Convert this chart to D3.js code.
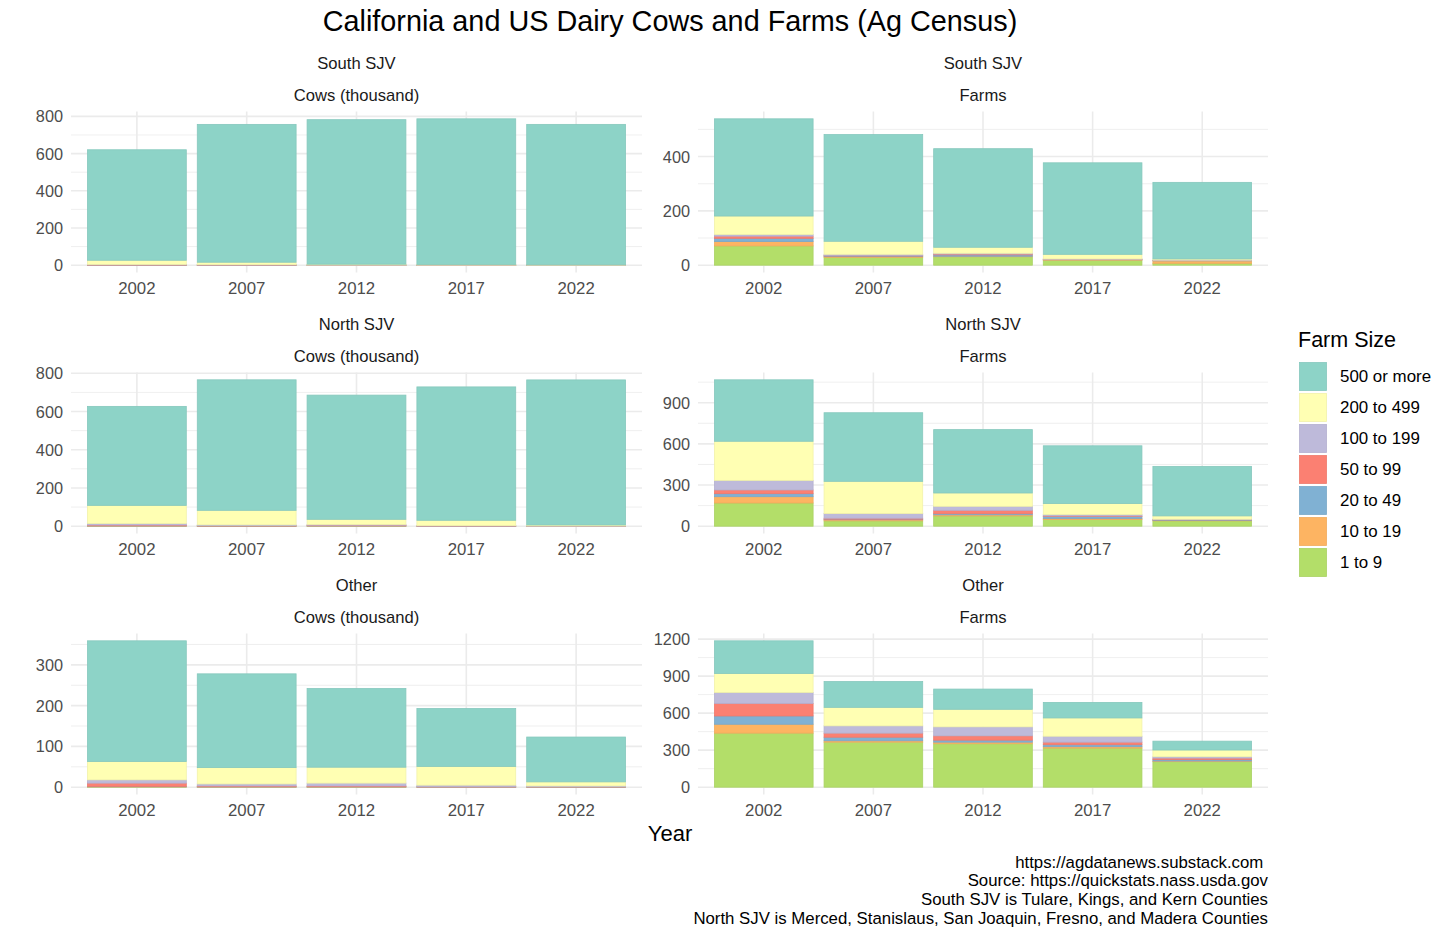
<!DOCTYPE html>
<html lang="en">
  <head>
    <meta charset="utf-8">
    <title>California and US Dairy Cows and Farms</title>
    <style>
      body { margin: 0; background: #fff; }
      svg { display: block; font-family: "Liberation Sans", Arial, sans-serif; }
    </style>
    <script src="https://cdn.jsdelivr.net/npm/d3@7"></script>
  </head>
  <body>
    <script>
    // data (stack order bottom -> top, columns follow years)
    const years = ["2002", "2007", "2012", "2017", "2022"];
    const sizes = ["1 to 9", "10 to 19", "20 to 49", "50 to 99", "100 to 199", "200 to 499", "500 or more"];
    const sizeColors = ["#B3DE69", "#FDB462", "#80B1D3", "#FB8072", "#BEBADA", "#FFFFB3", "#8DD3C7"];

    const southCows = [
      [0.05, 0.03, 0.02, 0.02, 0.01],
      [0.15, 0.1, 0.05, 0.05, 0.03],
      [0.3, 0.2, 0.1, 0.1, 0.05],
      [1, 0.6, 0.3, 0.2, 0.1],
      [3, 2, 0.8, 0.5, 0.3],
      [22, 13, 4, 3, 1.5],
      [594, 741, 777, 783, 755]
    ];
    const southFarms = [
      [71, 29, 31, 18, 7],
      [16, 3, 2, 2, 9],
      [12, 2, 5, 1, 1],
      [8, 2, 3, 1, 1],
      [6, 4, 3, 1, 1],
      [68, 48, 22, 17, 4],
      [358, 393, 363, 337, 282]
    ];
    const northCows = [
      [0.5, 0.2, 0.5, 0.1, 0.05],
      [0.5, 0.3, 0.5, 0.1, 0.05],
      [1, 0.5, 1, 0.2, 0.1],
      [4, 2, 3, 0.5, 0.3],
      [8, 4, 4, 2, 1],
      [95, 76, 27, 28, 5],
      [518, 683, 650, 698, 759]
    ];
    const northFarms = [
      [169, 39, 75, 48, 39],
      [46, 8, 8, 9, 3],
      [22, 4, 8, 14, 4],
      [27, 7, 25, 4, 2],
      [70, 34, 29, 10, 3],
      [285, 235, 97, 80, 24],
      [448, 500, 462, 421, 361]
    ];
    const otherCows = [
      [0.5, 0.3, 0.3, 0.2, 0.2],
      [0.5, 0.3, 0.3, 0.1, 0.1],
      [1, 0.4, 0.4, 0.2, 0.2],
      [8, 2, 2, 0.5, 0.5],
      [8, 5, 7, 4, 2],
      [45, 40, 39, 46, 10],
      [296, 230, 193, 142, 110]
    ];
    const otherFarms = [
      [438, 365, 352, 317, 207],
      [72, 11, 13, 11, 5],
      [67, 29, 16, 16, 11],
      [102, 33, 35, 21, 13],
      [89, 59, 73, 48, 11],
      [153, 150, 142, 148, 54],
      [265, 209, 164, 126, 72]
    ];

    const regions = ["South SJV", "North SJV", "Other"];
    const measures = ["Cows (thousand)", "Farms"];
    const panelData = [[southCows, southFarms], [northCows, northFarms], [otherCows, otherFarms]];
    const panelTicks = [
      [[0, 200, 400, 600, 800], [0, 200, 400]],
      [[0, 200, 400, 600, 800], [0, 300, 600, 900]],
      [[0, 100, 200, 300], [0, 300, 600, 900, 1200]]
    ];

    const captionLines = [
      "https://agdatanews.substack.com ",
      "Source: https://quickstats.nass.usda.gov",
      "South SJV is Tulare, Kings, and Kern Counties",
      "North SJV is Merced, Stanislaus, San Joaquin, Fresno, and Madera Counties"
    ];

    // layout
    const W = 1456, H = 937;
    const colX = [[71, 642], [698, 1268]];
    const rowTop = [111.5, 372.5, 633.5];
    const panelH = 161;
    const gridColor = "#EBEBEB";

    const svg = d3.select("body").append("svg")
      .attr("width", W)
      .attr("height", H);

    svg.append("text")
      .attr("x", 670)
      .attr("y", 21)
      .attr("text-anchor", "middle")
      .attr("dominant-baseline", "central")
      .style("font-size", "28.8px")
      .style("fill", "#000")
      .text("California and US Dairy Cows and Farms (Ag Census)");

    regions.forEach((region, r) => {
      measures.forEach((measure, c) => {
        const data = panelData[r][c];
        const ticks = panelTicks[r][c];
        const [x0, x1] = colX[c];
        const top = rowTop[r], bottom = top + panelH;

        const x = d3.scaleBand()
          .domain(years)
          .range([x0, x1])
          .paddingInner(0.1)
          .paddingOuter(0.15);

        const rows = years.map((yr, i) => {
          const o = { year: yr };
          sizes.forEach((s, k) => o[s] = data[k][i]);
          return o;
        });
        const stacked = d3.stack().keys(sizes)(rows);
        const maxV = d3.max(stacked[stacked.length - 1], d => d[1]);

        const y = d3.scaleLinear()
          .domain([-0.05 * maxV, 1.05 * maxV])
          .range([bottom, top]);

        const g = svg.append("g");

        // minor grid
        const step = ticks[1] - ticks[0];
        const ext = [ticks[0] - step, ...ticks, ticks[ticks.length - 1] + step];
        const minors = d3.pairs(ext).map(p => (p[0] + p[1]) / 2)
          .filter(v => v >= y.domain()[0] && v <= y.domain()[1]);
        g.selectAll(".minor").data(minors).join("line")
          .attr("x1", x0).attr("x2", x1)
          .attr("y1", d => y(d)).attr("y2", d => y(d))
          .attr("stroke", gridColor).attr("stroke-width", 0.8);

        // major grid
        g.selectAll(".major").data(ticks).join("line")
          .attr("x1", x0).attr("x2", x1)
          .attr("y1", d => y(d)).attr("y2", d => y(d))
          .attr("stroke", gridColor).attr("stroke-width", 1.6);
        g.selectAll(".vgrid").data(years).join("line")
          .attr("x1", d => x(d) + x.bandwidth() / 2).attr("x2", d => x(d) + x.bandwidth() / 2)
          .attr("y1", top).attr("y2", bottom)
          .attr("stroke", gridColor).attr("stroke-width", 1.6);

        // bars
        g.selectAll(".layer").data(stacked).join("g")
          .attr("fill", (d, k) => sizeColors[k])
          .attr("stroke", (d, k) => d3.color(sizeColors[k]).darker(0.15))
          .attr("stroke-width", 0.8)
          .selectAll("rect").data(d => d).join("rect")
          .attr("x", d => x(d.data.year))
          .attr("width", x.bandwidth())
          .attr("y", d => y(d[1]))
          .attr("height", d => Math.max(0, y(d[0]) - y(d[1])));

        // y tick labels
        g.selectAll(".ylab").data(ticks).join("text")
          .attr("x", x0 - 8)
          .attr("y", d => y(d))
          .attr("text-anchor", "end")
          .attr("dominant-baseline", "central")
          .style("font-size", "16.3px")
          .style("fill", "#4D4D4D")
          .text(d => d);

        // x tick labels
        g.selectAll(".xlab").data(years).join("text")
          .attr("x", d => x(d) + x.bandwidth() / 2)
          .attr("y", bottom + 16)
          .attr("text-anchor", "middle")
          .attr("dominant-baseline", "central")
          .style("font-size", "16.8px")
          .style("fill", "#4D4D4D")
          .text(d => d);

        // strips
        const cx = (x0 + x1) / 2;
        g.append("text")
          .attr("x", cx).attr("y", top - 48)
          .attr("text-anchor", "middle")
          .attr("dominant-baseline", "central")
          .style("font-size", "16.6px")
          .style("fill", "#1A1A1A")
          .text(region);
        g.append("text")
          .attr("x", cx).attr("y", top - 16)
          .attr("text-anchor", "middle")
          .attr("dominant-baseline", "central")
          .style("font-size", "16.6px")
          .style("fill", "#1A1A1A")
          .text(measure);
      });
    });

    svg.append("text")
      .attr("x", 670)
      .attr("y", 833)
      .attr("text-anchor", "middle")
      .attr("dominant-baseline", "central")
      .style("font-size", "22px")
      .style("fill", "#000")
      .text("Year");

    // legend
    const legend = svg.append("g").attr("transform", "translate(1299,362)");
    legend.append("text")
      .attr("x", -1).attr("y", -22)
      .attr("dominant-baseline", "central")
      .style("font-size", "21.5px")
      .style("fill", "#000")
      .text("Farm Size");
    const legendOrder = sizes.slice().reverse();
    legendOrder.forEach((s, i) => {
      const k = sizes.indexOf(s);
      legend.append("rect")
        .attr("x", 0.5).attr("y", i * 31 + 0.5)
        .attr("width", 27).attr("height", 28)
        .attr("fill", sizeColors[k])
        .attr("stroke", d3.color(sizeColors[k]).darker(0.15))
        .attr("stroke-width", 0.8);
      legend.append("text")
        .attr("x", 41).attr("y", i * 31 + 14.5)
        .attr("dominant-baseline", "central")
        .style("font-size", "16.9px")
        .style("fill", "#000")
        .text(s);
    });

    // caption
    svg.append("g").selectAll("text").data(captionLines).join("text")
      .attr("x", 1268)
      .attr("y", (d, i) => 862 + i * 18.7)
      .attr("text-anchor", "end")
      .attr("dominant-baseline", "central")
      .style("font-size", "16.8px")
      .style("fill", "#000")
      .style("white-space", "pre")
      .text(d => d);
    </script>
  </body>
</html>
